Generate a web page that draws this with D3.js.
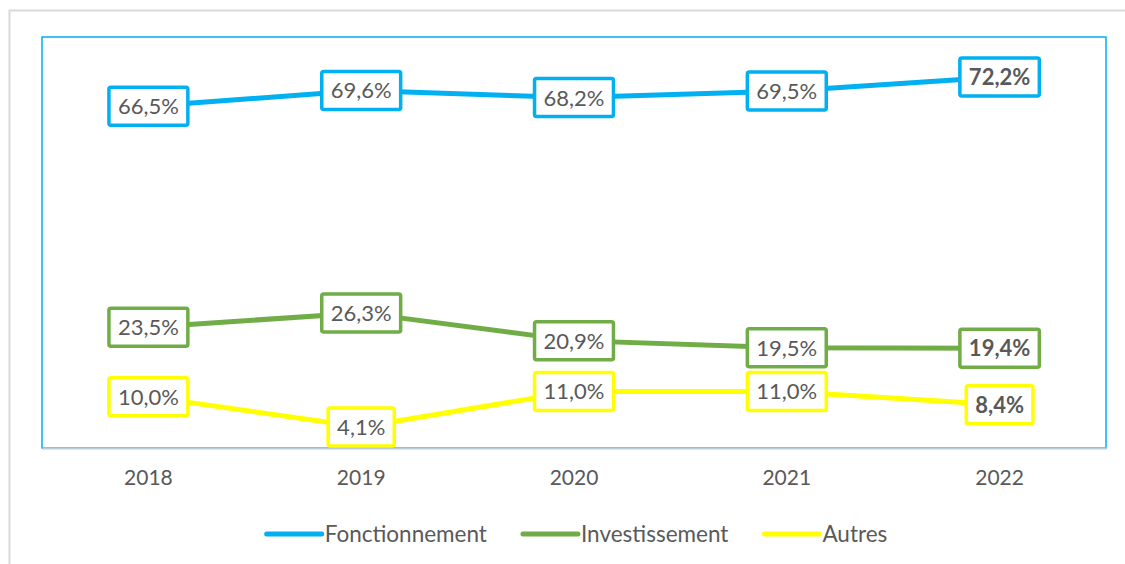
<!DOCTYPE html>
<html>
<head>
<meta charset="utf-8">
<script src="https://cdn.jsdelivr.net/npm/d3@7"></script>
<style>
  body { margin: 0; background: #fff; }
  svg { display: block; font-family: Lato, "Open Sans", sans-serif; }
</style>
</head>
<body>
<svg width="1125" height="564"></svg>
<script>
// chart data
var years = ['2018', '2019', '2020', '2021', '2022'];
var fonctionnement = [66.5, 69.6, 68.2, 69.5, 72.2];
var investissement = [23.5, 26.3, 20.9, 19.5, 19.4];
var autres = [10.0, 4.1, 11.0, 11.0, 8.4];
var seriesNames = ['Fonctionnement', 'Investissement', 'Autres'];
var seriesColors = ['#00b0f0', '#70ad47', '#ffff00'];

var series = [fonctionnement, investissement, autres].map(function(vals, i) {
    return { name: seriesNames[i], color: seriesColors[i], values: vals };
});

var svg = d3.select('svg');
var textColor = '#595959';

// outer frame
svg.append('rect')
    .attr('x', 9.5).attr('y', 10.5)
    .attr('width', 1130).attr('height', 570)
    .style('fill', 'none')
    .style('stroke', '#d9d9d9')
    .style('stroke-width', 2);

// plot area
var plot = { left: 42, top: 37, right: 1106, bottom: 448 };

var x = d3.scaleBand()
    .domain(years)
    .range([plot.left, plot.right]);

var y = d3.scaleLinear()
    .domain([0, 80])
    .range([plot.bottom, plot.top]);

svg.append('rect')
    .attr('x', plot.left).attr('y', plot.top)
    .attr('width', plot.right - plot.left)
    .attr('height', plot.bottom - plot.top)
    .style('fill', 'none')
    .style('stroke', '#00b0f0')
    .style('stroke-width', 1.5);

// x axis
var xAxis = d3.axisBottom(x).tickSize(0).tickPadding(22);
var gX = svg.append('g')
    .attr('transform', 'translate(0,' + plot.bottom + ')')
    .call(xAxis);
gX.select('.domain')
    .style('stroke', '#bcccd8')
    .style('stroke-width', 2);
gX.selectAll('text')
    .style('font-family', 'Lato, sans-serif')
    .style('font-size', '21px')
    .style('fill', textColor);

function cx(i) { return x(years[i]) + x.bandwidth() / 2; }

var line = d3.line()
    .x(function(d, i) { return cx(i); })
    .y(function(d) { return y(d); });

// lines
svg.selectAll('.serie')
    .data(series)
    .enter()
    .append('path')
    .attr('class', 'serie')
    .attr('d', function(d) { return line(d.values); })
    .style('fill', 'none')
    .style('stroke', function(d) { return d.color; })
    .style('stroke-width', 5)
    .style('stroke-linejoin', 'round');

// data labels
var fmt = function(v) { return v.toFixed(1).replace('.', ',') + '%'; };

series.forEach(function(s) {
    s.values.forEach(function(v, i) {
        var g = svg.append('g')
            .attr('transform', 'translate(' + cx(i) + ',' + y(v) + ')');
        var box = g.append('rect');
        var t = g.append('text')
            .attr('text-anchor', 'middle')
            .attr('dy', '0.36em')
            .style('font-size', '22px')
            .style('font-weight', i === years.length - 1 ? 'bold' : 'normal')
            .style('fill', textColor)
            .text(fmt(v));
        var w = t.node().getComputedTextLength() + 18;
        box.attr('x', -w / 2).attr('y', -19)
            .attr('width', w).attr('height', 38)
            .attr('rx', 2)
            .style('fill', '#fff')
            .style('stroke', s.color)
            .style('stroke-width', 3.5);
    });
});

// legend
var legend = svg.append('g');
var lx = 0;
series.forEach(function(s, i) {
    var item = legend.append('g').attr('transform', 'translate(' + lx + ',0)');
    item.append('line')
        .attr('x1', 0).attr('x2', 55)
        .attr('y1', 0).attr('y2', 0)
        .style('stroke', s.color)
        .style('stroke-width', 5)
        .style('stroke-linecap', 'round');
    var t = item.append('text')
        .attr('x', 58)
        .attr('dy', '0.36em')
        .style('font-size', '22.5px')
        .style('fill', textColor)
        .text(s.name);
    lx += 58 + t.node().getComputedTextLength() + 36;
});
var lw = lx - 36;
legend.attr('transform', 'translate(' + (577 - lw / 2) + ',534)');
</script>
</body>
</html>
